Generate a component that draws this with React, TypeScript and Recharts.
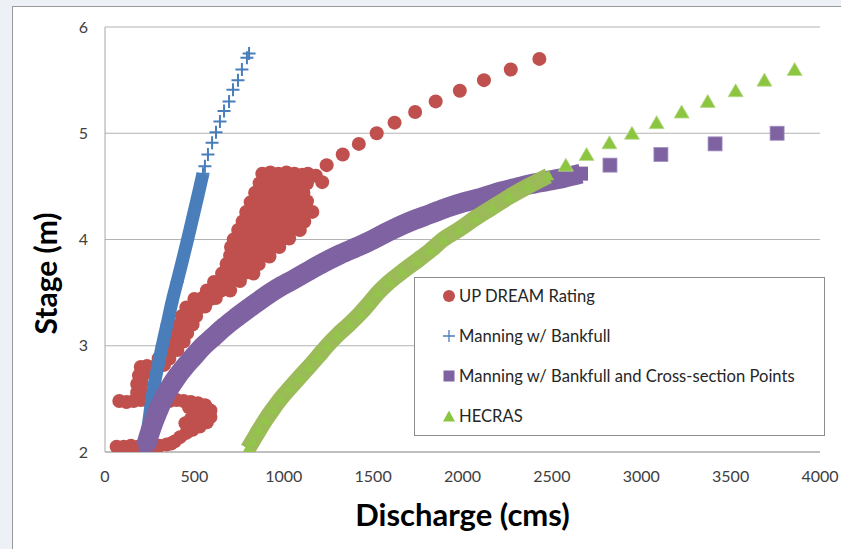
import React from "react"
import {
  CartesianGrid,
  Legend,
  Scatter,
  ScatterChart,
  XAxis,
  YAxis,
} from "recharts"

type Pt = [number, number]

// UP DREAM Rating (cms, m)
const upDreamCloud: Pt[] = [
  [880, 4.62], [925, 4.63], [970, 4.62], [1015, 4.63], [1060, 4.62], [1105, 4.61], [1135, 4.62], [1180, 4.6],
  [865, 4.53], [910, 4.54], [955, 4.53], [1000, 4.54], [1045, 4.53], [1090, 4.52], [1130, 4.53], [1215, 4.54],
  [840, 4.44], [885, 4.45], [930, 4.44], [975, 4.45], [1020, 4.44], [1065, 4.43], [1110, 4.44],
  [815, 4.35], [860, 4.36], [905, 4.35], [950, 4.36], [995, 4.35], [1040, 4.34], [1085, 4.35], [1130, 4.36],
  [790, 4.26], [835, 4.27], [880, 4.26], [925, 4.27], [970, 4.26], [1015, 4.25], [1060, 4.26], [1105, 4.27], [1160, 4.26],
  [770, 4.17], [815, 4.18], [860, 4.17], [905, 4.18], [950, 4.17], [995, 4.16], [1040, 4.17], [1085, 4.18], [1115, 4.17],
  [745, 4.09], [790, 4.1], [835, 4.09], [880, 4.1], [925, 4.09], [970, 4.08], [1015, 4.09], [1060, 4.1], [1090, 4.09],
  [720, 4.0], [765, 4.01], [810, 4.0], [855, 4.01], [900, 4.0], [945, 3.99], [990, 4.0], [1030, 4.01],
  [705, 3.93], [750, 3.92], [795, 3.93], [840, 3.92], [885, 3.93], [930, 3.92], [975, 3.93],
  [700, 3.85], [745, 3.84], [790, 3.85], [835, 3.84], [880, 3.85], [920, 3.84],
  [680, 3.77], [725, 3.76], [770, 3.77], [815, 3.76], [860, 3.77],
  [655, 3.68], [700, 3.69], [745, 3.68], [790, 3.69], [830, 3.68],
  [610, 3.6], [655, 3.61], [700, 3.6], [755, 3.61],
  [570, 3.52], [610, 3.53], [650, 3.52], [700, 3.52],
  [500, 3.44], [545, 3.45], [590, 3.44], [620, 3.45],
  [455, 3.36], [495, 3.37], [530, 3.36], [560, 3.37],
  [430, 3.28], [470, 3.29], [510, 3.28],
  [415, 3.2], [450, 3.21], [490, 3.2],
  [395, 3.12], [430, 3.13], [460, 3.12],
  [380, 3.04], [410, 3.05], [440, 3.04],
  [350, 2.96], [380, 2.97], [405, 2.96],
  [300, 2.88], [335, 2.89], [360, 2.88],
  [200, 2.8], [235, 2.81], [270, 2.8], [305, 2.81], [330, 2.82],
  [190, 2.72], [215, 2.73],
  [180, 2.64], [205, 2.65],
  [180, 2.56], [200, 2.57],
  [80, 2.48], [120, 2.47], [160, 2.48], [200, 2.49], [240, 2.48], [280, 2.48], [320, 2.47],
  [360, 2.48], [400, 2.49], [440, 2.48], [480, 2.47], [520, 2.46], [560, 2.44],
  [590, 2.39], [590, 2.33], [570, 2.28], [530, 2.24], [490, 2.21], [455, 2.18], [420, 2.14], [390, 2.1],
  [450, 2.27], [480, 2.31], [510, 2.35], [540, 2.39], [500, 2.41], [470, 2.42],
  [65, 2.05], [105, 2.05], [145, 2.06], [185, 2.05], [225, 2.06], [265, 2.05], [305, 2.06], [345, 2.07], [370, 2.08],
]
const upDreamUpper: Pt[] = [
  [1240, 4.7], [1330, 4.8], [1420, 4.9], [1520, 5.0], [1620, 5.1], [1735, 5.2],
  [1850, 5.3], [1985, 5.4], [2120, 5.5], [2270, 5.6], [2430, 5.7],
]

// Manning w/ Bankfull
const manningDense: Pt[] = [
  [225, 2.04], [238, 2.2], [254, 2.4], [272, 2.6], [295, 2.8], [320, 3.0], [347, 3.2],
  [373, 3.4], [403, 3.6], [433, 3.8], [462, 4.0], [490, 4.2], [518, 4.4], [548, 4.62],
]
const manningUpper: Pt[] = [
  [559, 4.69], [576, 4.8], [599, 4.91], [621, 5.01], [643, 5.11], [666, 5.21],
  [694, 5.3], [716, 5.41], [744, 5.5], [766, 5.6], [794, 5.71], [806, 5.75],
]

// Manning w/ Bankfull and Cross-section Points
const xsecDense: Pt[] = [
  [228, 2.05], [245, 2.15], [269, 2.27], [295, 2.38], [324, 2.49], [360, 2.6], [403, 2.71],
  [445, 2.8], [492, 2.89], [545, 2.99], [604, 3.08], [670, 3.18], [738, 3.27], [810, 3.36],
  [884, 3.45], [965, 3.54], [1052, 3.62], [1135, 3.7], [1220, 3.78], [1315, 3.86], [1410, 3.93],
  [1500, 4.0], [1580, 4.07], [1723, 4.18], [1820, 4.24], [1913, 4.3], [2005, 4.35], [2098, 4.39],
  [2190, 4.44], [2283, 4.48], [2380, 4.52], [2473, 4.55], [2565, 4.58], [2663, 4.62],
]
const xsecUpper: Pt[] = [[2825, 4.7], [3110, 4.8], [3413, 4.9], [3760, 5.0]]

// HECRAS
const hecrasDense: Pt[] = [
  [800, 2.03], [825, 2.1], [860, 2.2], [897, 2.3], [938, 2.4], [982, 2.5], [1033, 2.6],
  [1086, 2.7], [1140, 2.8], [1192, 2.9], [1243, 3.0], [1300, 3.1], [1365, 3.2], [1425, 3.3],
  [1478, 3.4], [1528, 3.5], [1590, 3.6], [1665, 3.7], [1745, 3.8], [1822, 3.9], [1891, 4.0],
  [1985, 4.1], [2070, 4.2], [2165, 4.3], [2260, 4.4], [2365, 4.5], [2480, 4.6],
]
const hecrasUpper: Pt[] = [
  [2578, 4.7], [2694, 4.8], [2822, 4.91], [2948, 5.0], [3086, 5.1],
  [3226, 5.2], [3372, 5.3], [3528, 5.4], [3689, 5.5], [3858, 5.6],
]

const xTicks = [0, 500, 1000, 1500, 2000, 2500, 3000, 3500, 4000]
const yTicks = [2, 3, 4, 5, 6]

const RED = "#c0504d"
const BLUE = "#4a7ebb"
const PURPLE = "#7f62a1"
const GREEN_BAND = "#9bbb59"
const GREEN = "#8cc540"
const FONT = "Lato, 'Open Sans', sans-serif"

const pts = (a: Pt[]) => a.map(([x, y]) => ({ x, y }))

const Circle = (p: any) => <circle cx={p.cx} cy={p.cy} r={7} fill={RED} />
const Plus = (p: any) => (
  <path
    d={`M${p.cx - 6.5},${p.cy}h13M${p.cx},${p.cy - 6.5}v13`}
    stroke={BLUE}
    strokeWidth={2}
    fill="none"
  />
)
const Square = (p: any) => (
  <rect x={p.cx - 7} y={p.cy - 7} width={14} height={14} fill={PURPLE} stroke="#a08fc0" strokeWidth={0.8} />
)
const BandSquare = (p: any) => (
  <rect x={p.cx - 7} y={p.cy - 7} width={14} height={14} fill={PURPLE} />
)
const Triangle = (p: any) => (
  <path
    d={`M${p.cx},${p.cy - 7}L${p.cx + 7.5},${p.cy + 6}L${p.cx - 7.5},${p.cy + 6}Z`}
    fill={GREEN}
    stroke="#b6da8a"
    strokeWidth={0.8}
  />
)
const BandTriangle = (p: any) => (
  <path
    d={`M${p.cx},${p.cy - 6}L${p.cx + 6},${p.cy + 4.5}L${p.cx - 6},${p.cy + 4.5}Z`}
    fill="#93c54c"
  />
)

const legendItems = [
  { name: "UP DREAM Rating", icon: <circle cx={7} cy={7} r={6} fill={RED} /> },
  { name: "Manning w/ Bankfull", icon: <path d="M1,7h12M7,1v12" stroke={BLUE} strokeWidth={1.3} /> },
  { name: "Manning w/ Bankfull and Cross-section Points", icon: <rect x={1.5} y={1.5} width={11} height={11} fill={PURPLE} /> },
  { name: "HECRAS", icon: <path d="M7,1.5L13,12.5L1,12.5Z" fill={GREEN} /> },
]

const LegendBox = () => (
  <div
    style={{
      width: 409,
      height: 157,
      background: "#fff",
      border: "1px solid #8c8c8c",
      fontFamily: FONT,
      fontSize: 16.6,
      color: "#262626",
      boxSizing: "content-box",
    }}
  >
    {legendItems.map((it, i) => (
      <div
        key={it.name}
        style={{ position: "absolute", left: 28, top: 10 + i * 40, display: "flex", alignItems: "center", height: 17 }}
      >
        <svg width={14} height={14} style={{ marginRight: 3 }}>
          {it.icon}
        </svg>
        <span>{it.name}</span>
      </div>
    ))}
  </div>
)

export default function App() {
  return (
    <div style={{ position: "absolute", left: 0, top: 0, width: 841, height: 549, background: "#edf1f6", overflow: "hidden" }}>
      <div
        style={{
          position: "absolute",
          left: 12,
          top: 6,
          width: 840,
          height: 560,
          background: "#fff",
          borderLeft: "1.5px solid #9a9a9a",
          borderTop: "1.5px solid #9a9a9a",
        }}
      />
      <div style={{ position: "absolute", left: 0, top: 0 }}>
        <ScatterChart width={841} height={549} margin={{ top: 27, right: 21, bottom: 67, left: 0 }}>
          <CartesianGrid vertical={false} stroke="#b3b3b3" />
          <XAxis
            type="number"
            dataKey="x"
            domain={[0, 4000]}
            ticks={xTicks}
            allowDataOverflow
            tickLine={false}
            axisLine={{ stroke: "#a6a6a6" }}
            tickMargin={13}
            tick={{ fill: "#404040", fontSize: 16, fontFamily: FONT }}
            height={30}
            label={{
              value: "Discharge (cms)",
              position: "center",
              dy: 48,
              style: { fontFamily: FONT, fontWeight: 700, fontSize: 31, fill: "#000" },
            }}
          />
          <YAxis
            type="number"
            dataKey="y"
            domain={[2, 6]}
            ticks={yTicks}
            allowDataOverflow
            tickLine={false}
            axisLine={{ stroke: "#a6a6a6" }}
            tickMargin={11}
            width={105}
            tick={{ fill: "#404040", fontSize: 16, fontFamily: FONT }}
            label={{
              value: "Stage (m)",
              position: "center",
              angle: -90,
              dx: -6,
              dy: 34,
              style: { fontFamily: FONT, fontWeight: 700, fontSize: 30, fill: "#000" },
            }}
          />
          <Legend
            layout="vertical"
            align="center"
            verticalAlign="middle"
            wrapperStyle={{ left: 414, top: 277, width: 411 }}
            content={() => <LegendBox />}
          />
          <Scatter name="UP DREAM Rating" data={pts(upDreamCloud)} fill={RED} shape={Circle} isAnimationActive={false} />
          <Scatter data={pts(upDreamUpper)} fill={RED} shape={Circle} isAnimationActive={false} legendType="none" />
          <Scatter
            name="Manning w/ Bankfull"
            data={pts(manningDense)}
            fill={BLUE}
            shape={Plus}
            line={{ stroke: BLUE, strokeWidth: 13 }}
            lineType="joint"
            lineJointType="monotoneX"
            isAnimationActive={false}
          />
          <Scatter data={pts(manningUpper)} fill={BLUE} shape={Plus} isAnimationActive={false} legendType="none" />
          <Scatter
            name="Manning w/ Bankfull and Cross-section Points"
            data={pts(xsecDense)}
            fill={PURPLE}
            shape={BandSquare}
            line={{ stroke: PURPLE, strokeWidth: 20, strokeLinejoin: "round" }}
            lineType="joint"
            lineJointType="monotoneX"
            isAnimationActive={false}
          />
          <Scatter data={pts(xsecUpper)} fill={PURPLE} shape={Square} isAnimationActive={false} legendType="none" />
          <Scatter
            name="HECRAS"
            data={pts(hecrasDense)}
            fill={GREEN_BAND}
            shape={BandTriangle}
            line={{ stroke: GREEN_BAND, strokeWidth: 16, strokeLinejoin: "round" }}
            lineType="joint"
            lineJointType="monotoneX"
            isAnimationActive={false}
          />
          <Scatter data={pts(hecrasUpper)} fill={GREEN} shape={Triangle} isAnimationActive={false} legendType="none" />
        </ScatterChart>
      </div>
    </div>
  )
}
